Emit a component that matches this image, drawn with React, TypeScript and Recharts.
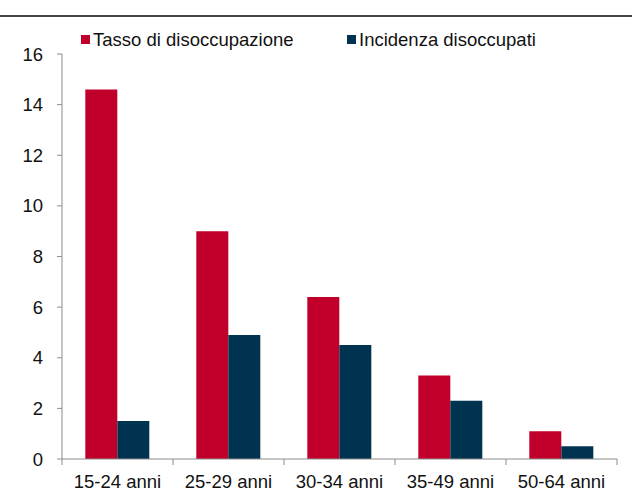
import { Bar, BarChart, XAxis, YAxis } from "recharts";

const categories = ["15-24 anni", "25-29 anni", "30-34 anni", "35-49 anni", "50-64 anni"];
const tasso = [14.6, 9.0, 6.4, 3.3, 1.1];
const incidenza = [1.5, 4.9, 4.5, 2.3, 0.5];
const yTicks = [0, 2, 4, 6, 8, 10, 12, 14, 16];

const RED = "#C0002A";
const BLUE = "#00334F";
const AXIS = "#8c8c8c";
const FONT = "'Liberation Sans', Arial, sans-serif";
const FS = 18.5;

const data = categories.map((c, i) => ({
  name: c,
  tasso: tasso[i],
  incidenza: incidenza[i],
}));

function XTick(props: any) {
  const { x, y, payload, index, visibleTicksCount } = props;
  const half = payload.offset || 55.5;
  const top = y - 8;
  return (
    <g>
      <line x1={x - half} x2={x - half} y1={top} y2={top + 6} stroke={AXIS} />
      {index === visibleTicksCount - 1 && (
        <line x1={x + half} x2={x + half} y1={top} y2={top + 6} stroke={AXIS} />
      )}
      <text x={x} y={y + 21} textAnchor="middle" fontSize={FS} fill="#111" fontFamily={FONT}>
        {payload.value}
      </text>
    </g>
  );
}

function YTick(props: any) {
  const { x, y, payload } = props;
  return (
    <text x={x - 1} y={y + 6.5} textAnchor="end" fontSize={FS} fill="#111" fontFamily={FONT}>
      {payload.value}
    </text>
  );
}

function LegendBox() {
  const items = [
    { label: "Tasso di disoccupazione", color: RED, left: 81 },
    { label: "Incidenza disoccupati", color: BLUE, left: 347 },
  ];
  return (
    <>
      {items.map((it) => (
        <div key={it.label}>
          <span
            style={{ position: "absolute", left: it.left, top: 35, width: 9, height: 9, background: it.color }}
          />
          <span
            style={{
              position: "absolute",
              left: it.left + 12,
              top: 30,
              fontFamily: FONT,
              fontSize: FS,
              lineHeight: "20px",
              color: "#111",
              whiteSpace: "nowrap",
            }}
          >
            {it.label}
          </span>
        </div>
      ))}
    </>
  );
}

export default function App() {
  return (
    <div style={{ position: "absolute", left: 0, top: 0, width: 632, height: 498, background: "#fff" }}>
      <div style={{ position: "absolute", left: 0, top: 15, width: 632, height: 1.5, background: "#444" }} />
      <LegendBox />
      <BarChart
        width={632}
        height={498}
        data={data}
        margin={{ top: 54, right: 15, bottom: 0, left: 0 }}
        barCategoryGap="21%"
        barGap={0}
      >
        <XAxis
          dataKey="name"
          height={39}
          stroke={AXIS}
          tickLine={false}
          tick={<XTick />}
          interval={0}
        />
        <YAxis
          width={62}
          domain={[0, 16]}
          ticks={yTicks}
          stroke={AXIS}
          tickSize={5}
          tickMargin={13}
          tick={<YTick />}
        />
        <Bar dataKey="tasso" fill={RED} isAnimationActive={false} />
        <Bar dataKey="incidenza" fill={BLUE} isAnimationActive={false} />
      </BarChart>
    </div>
  );
}
